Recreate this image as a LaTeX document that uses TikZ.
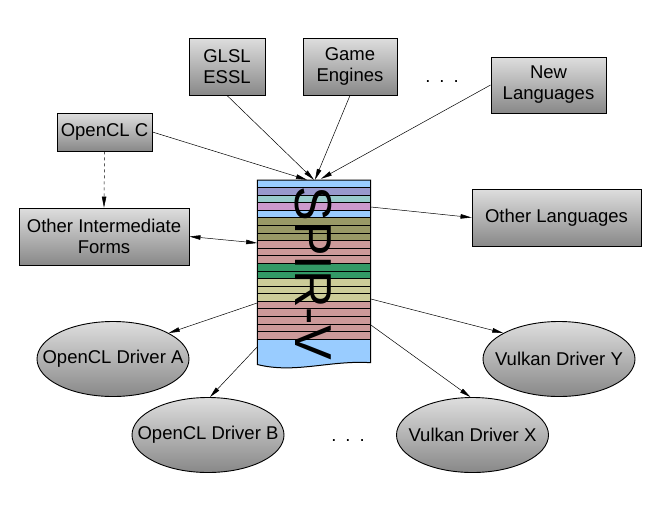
\documentclass[tikz,border=0pt]{standalone}
\usepackage{fontspec}
\setmainfont{Liberation Sans}
\usetikzlibrary{arrows.meta,shapes.geometric,calc}
\definecolor{gtop}{RGB}{222,222,222}
\definecolor{gbot}{RGB}{136,136,136}
\definecolor{sblue}{HTML}{99CCFF}
\definecolor{spurple}{HTML}{9999CC}
\definecolor{steal}{HTML}{99CCCC}
\definecolor{spink}{HTML}{CC99CC}
\definecolor{solive}{HTML}{999966}
\definecolor{srose}{HTML}{CC9999}
\definecolor{sgreen}{HTML}{339966}
\definecolor{skhaki}{HTML}{CCCC99}
\tikzset{
  lbl/.style={font=\fontsize{18.5}{21}\selectfont, align=center, inner sep=0pt},
  gbox/.style={lbl, draw=black, line width=0.9pt, rectangle, top color=gtop, bottom color=gbot},
  gell/.style={lbl, draw=black, line width=0.9pt, ellipse, top color=gtop, bottom color=gbot,
               minimum width=152pt, minimum height=75pt},
  conn/.style={draw=black, line width=0.5pt, -{Triangle[length=11pt,width=4.5pt]}},
  dots/.style={font=\fontsize{18.5}{21}\selectfont, inner sep=0pt}
}
\begin{document}
\begin{tikzpicture}[x=1pt,y=-1pt]
\useasboundingbox (0,0) rectangle (672,528);
% boxes
\node[gbox, minimum width=76pt, minimum height=57pt] (glsl) at (227,66.5) {GLSL\\ESSL};
\node[gbox, minimum width=94pt, minimum height=57pt] (game) at (350,66.5) {Game\\Engines};
\node[gbox, minimum width=115pt, minimum height=56pt] (newl) at (548.5,85) {New\\Languages};
\node[gbox, minimum width=95pt, minimum height=38pt] (oclc) at (104.5,132) {OpenCL C};
\node[gbox, minimum width=170pt, minimum height=57pt] (oif) at (104,236.5) {Other Intermediate\\Forms};
\node[gbox, minimum width=169pt, minimum height=57pt] (olang) at (556.5,217.5) {Other Languages};
\node[dots] (dtop) at (442,82) {.\hspace{9pt}.\hspace{9pt}.};
\node[dots] (dbot) at (348,441) {.\hspace{9pt}.\hspace{9pt}.};
% ellipses
\node[gell] (drvA) at (113,359) {\makebox[0pt]{OpenCL Driver A}};
\node[gell] (drvB) at (208,435) {\makebox[0pt]{OpenCL Driver B}};
\node[gell] (drvY) at (559,359) {\makebox[0pt]{Vulkan Driver Y}};
\node[gell] (drvX) at (472.5,435) {\makebox[0pt]{Vulkan Driver X}};
% SPIR-V document
\def\sx{257.3}\def\ex{370.7}\def\sh{7.586}
\fill[sblue] (\sx,339.3) -- (\ex,339.3) -- (\ex,362.7) .. controls (330,360) and (295,374) .. (\sx,364.5) -- cycle;
\foreach \c [count=\i from 0] in {sblue,spurple,steal,spink,sblue,solive,solive,solive,srose,srose,srose,sgreen,sgreen,skhaki,skhaki,skhaki,srose,srose,srose,srose,srose}{
  \fill[\c] (\sx,180+\i*\sh) rectangle (\ex,180+\i*\sh+\sh);
}
\foreach \i in {1,...,21}{
  \draw[line width=1pt] (\sx,180+\i*\sh) -- (\ex,180+\i*\sh);
}
\draw[line width=1pt] (\sx,339.3) -- (\sx,180) -- (\ex,180) -- (\ex,362.7) .. controls (330,360) and (295,374) .. (\sx,364.5) -- (\sx,339.3);
\node[font=\fontsize{52}{52}\selectfont, rotate=-90, inner sep=0pt] (spirvtxt) at (313,273) {SPIR-V};
\node[minimum width=113.4pt, minimum height=184pt, inner sep=0pt] (spirv) at (314,272) {};
% connectors
\draw[conn] (oclc.east) -- ([xshift=-7pt]spirv.north);
\draw[conn] (glsl.south) -- (spirv.north);
\draw[conn] (game.south) -- ([xshift=1pt]spirv.north);
\draw[conn] (newl.west) -- ([xshift=7pt,yshift=1pt]spirv.north);
\draw[conn, dashed] (oclc.south) -- (oif.north);
\draw[conn, {Triangle[length=11pt,width=4.5pt]}-{Triangle[length=11pt,width=4.5pt]}] (oif.east) -- ([yshift=29pt]spirv.west);
\draw[conn] ([yshift=65pt]spirv.east) -- (olang.west);
\draw[conn] ([yshift=-31pt]spirv.west) -- (drvA.25);
\draw[conn] ([yshift=-75pt]spirv.west) -- ([xshift=2pt]drvB.north);
\draw[conn] ([yshift=-27pt]spirv.east) -- (drvY.155);
\draw[conn] ([yshift=-53pt]spirv.east) -- ([xshift=-2pt]drvX.north);
\end{tikzpicture}
\end{document}
